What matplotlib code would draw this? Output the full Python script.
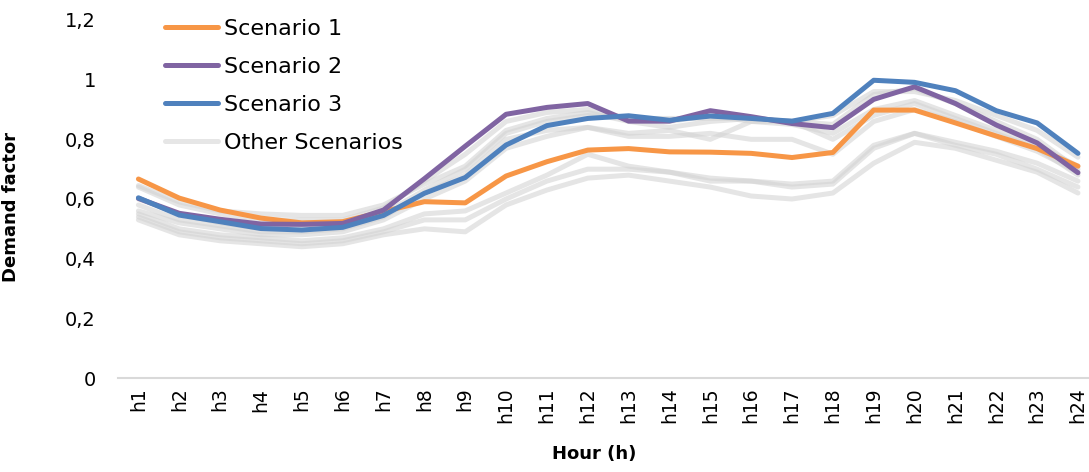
import matplotlib
matplotlib.use("Agg")
import matplotlib.pyplot as plt
import numpy as np

hours = [f"h{i}" for i in range(1, 25)]

scenario_1 = [0.667, 0.603, 0.563, 0.536, 0.520, 0.524, 0.558, 0.591, 0.587, 0.677, 0.725, 0.764,
              0.769, 0.758, 0.757, 0.753, 0.739, 0.756, 0.898, 0.898, 0.855, 0.811, 0.769, 0.710]
scenario_2 = [0.602, 0.552, 0.532, 0.516, 0.515, 0.518, 0.563, 0.668, 0.777, 0.884, 0.907, 0.920,
              0.861, 0.861, 0.896, 0.876, 0.853, 0.839, 0.934, 0.976, 0.920, 0.848, 0.788, 0.688]
scenario_3 = [0.604, 0.546, 0.524, 0.501, 0.496, 0.505, 0.545, 0.619, 0.672, 0.781, 0.846, 0.870,
              0.879, 0.864, 0.878, 0.870, 0.861, 0.887, 0.998, 0.991, 0.963, 0.896, 0.855, 0.753]

other_a = [0.64, 0.58, 0.55, 0.53, 0.53, 0.53, 0.57, 0.66, 0.75, 0.86, 0.89, 0.90,
           0.87, 0.86, 0.88, 0.86, 0.86, 0.85, 0.95, 0.97, 0.92, 0.86, 0.80, 0.70]
other_b = [0.60, 0.55, 0.52, 0.50, 0.50, 0.51, 0.55, 0.63, 0.70, 0.82, 0.86, 0.88,
           0.87, 0.87, 0.87, 0.87, 0.86, 0.88, 0.96, 0.96, 0.93, 0.88, 0.83, 0.74]
other_c = [0.58, 0.53, 0.51, 0.49, 0.49, 0.50, 0.54, 0.62, 0.68, 0.80, 0.83, 0.84,
           0.82, 0.83, 0.80, 0.86, 0.85, 0.82, 0.90, 0.93, 0.88, 0.83, 0.78, 0.71]
other_d = [0.56, 0.52, 0.50, 0.48, 0.48, 0.49, 0.53, 0.60, 0.66, 0.77, 0.81, 0.84,
           0.81, 0.81, 0.82, 0.80, 0.80, 0.75, 0.86, 0.90, 0.86, 0.81, 0.76, 0.69]
other_e = [0.55, 0.50, 0.48, 0.47, 0.46, 0.47, 0.50, 0.55, 0.56, 0.62, 0.68, 0.75,
           0.71, 0.69, 0.67, 0.66, 0.65, 0.66, 0.78, 0.82, 0.79, 0.76, 0.72, 0.66]
other_f = [0.54, 0.49, 0.47, 0.46, 0.45, 0.46, 0.49, 0.53, 0.53, 0.60, 0.66, 0.70,
           0.70, 0.69, 0.66, 0.66, 0.64, 0.65, 0.77, 0.82, 0.78, 0.75, 0.70, 0.64]
other_g = [0.53, 0.48, 0.46, 0.45, 0.44, 0.45, 0.48, 0.50, 0.49, 0.58, 0.63, 0.67,
           0.68, 0.66, 0.64, 0.61, 0.60, 0.62, 0.72, 0.79, 0.77, 0.73, 0.69, 0.62]
other_h = [0.645, 0.59, 0.56, 0.55, 0.545, 0.545, 0.58, 0.65, 0.71, 0.83, 0.87, 0.89,
           0.86, 0.84, 0.86, 0.87, 0.86, 0.80, 0.88, 0.92, 0.87, 0.82, 0.77, 0.68]
others = [other_a, other_b, other_c, other_d, other_e, other_f, other_g, other_h]

yticks = [0, 0.2, 0.4, 0.6, 0.8, 1.0, 1.2]
ytick_labels = ["0", "0,2", "0,4", "0,6", "0,8", "1", "1,2"]

plt.rcParams['font.family'] = ['DejaVu Sans']

fig = plt.figure(figsize=(10.89, 4.72), dpi=100)
ax = fig.add_axes([118/1089, (472-378)/472, 1 - 118/1089, (378-20)/472])

x = np.arange(1, 25)
lw = 3.6
for i, o in enumerate(others):
    ax.plot(x, o, color='#d4d4d4', alpha=0.6, lw=lw, solid_capstyle='round',
            label='Other Scenarios' if i == 0 else None, zorder=2)
ax.plot(x, scenario_1, color='#F79646', lw=lw, label='Scenario 1', zorder=3, solid_capstyle='round')
ax.plot(x, scenario_2, color='#8064A2', lw=lw, label='Scenario 2', zorder=3, solid_capstyle='round')
ax.plot(x, scenario_3, color='#4F81BD', lw=lw, label='Scenario 3', zorder=3, solid_capstyle='round')

ax.set_xlim(0.5, 24.27)
ax.set_ylim(0, 1.2)
ax.set_xticks(x)
ax.set_xticklabels(hours, rotation=90, fontsize=13.5)
ax.set_yticks(yticks)
ax.set_yticklabels(ytick_labels, fontsize=14)
ax.tick_params(axis='x', length=0, pad=7)
ax.tick_params(axis='y', length=0, pad=16)
for s in ['top', 'right', 'left']:
    ax.spines[s].set_visible(False)
ax.spines['bottom'].set_color('#d9d9d9')
ax.spines['bottom'].set_linewidth(1.5)

ax.set_ylabel('Demand factor', fontsize=13, fontweight='bold')
ax.yaxis.set_label_coords((20 - 118) / 971, (378 - 207) / 358)
ax.set_xlabel('Hour (h)', fontsize=13, fontweight='bold')
ax.xaxis.set_label_coords((594 - 118) / 971, -(445 - 378) / 358)

handles, labels = ax.get_legend_handles_labels()
order = [1, 2, 3, 0]
leg = ax.legend([handles[i] for i in order], [labels[i] for i in order],
                loc='upper left', bbox_to_anchor=(27/971, 1.06), frameon=False,
                fontsize=16, handlelength=2.4, handletextpad=0.25, labelspacing=0.82)
for lh in leg.get_lines():
    lh.set_alpha(1)
leg.get_lines()[3].set_color('#e6e6e6')

fig.savefig('out.png', dpi=100)
